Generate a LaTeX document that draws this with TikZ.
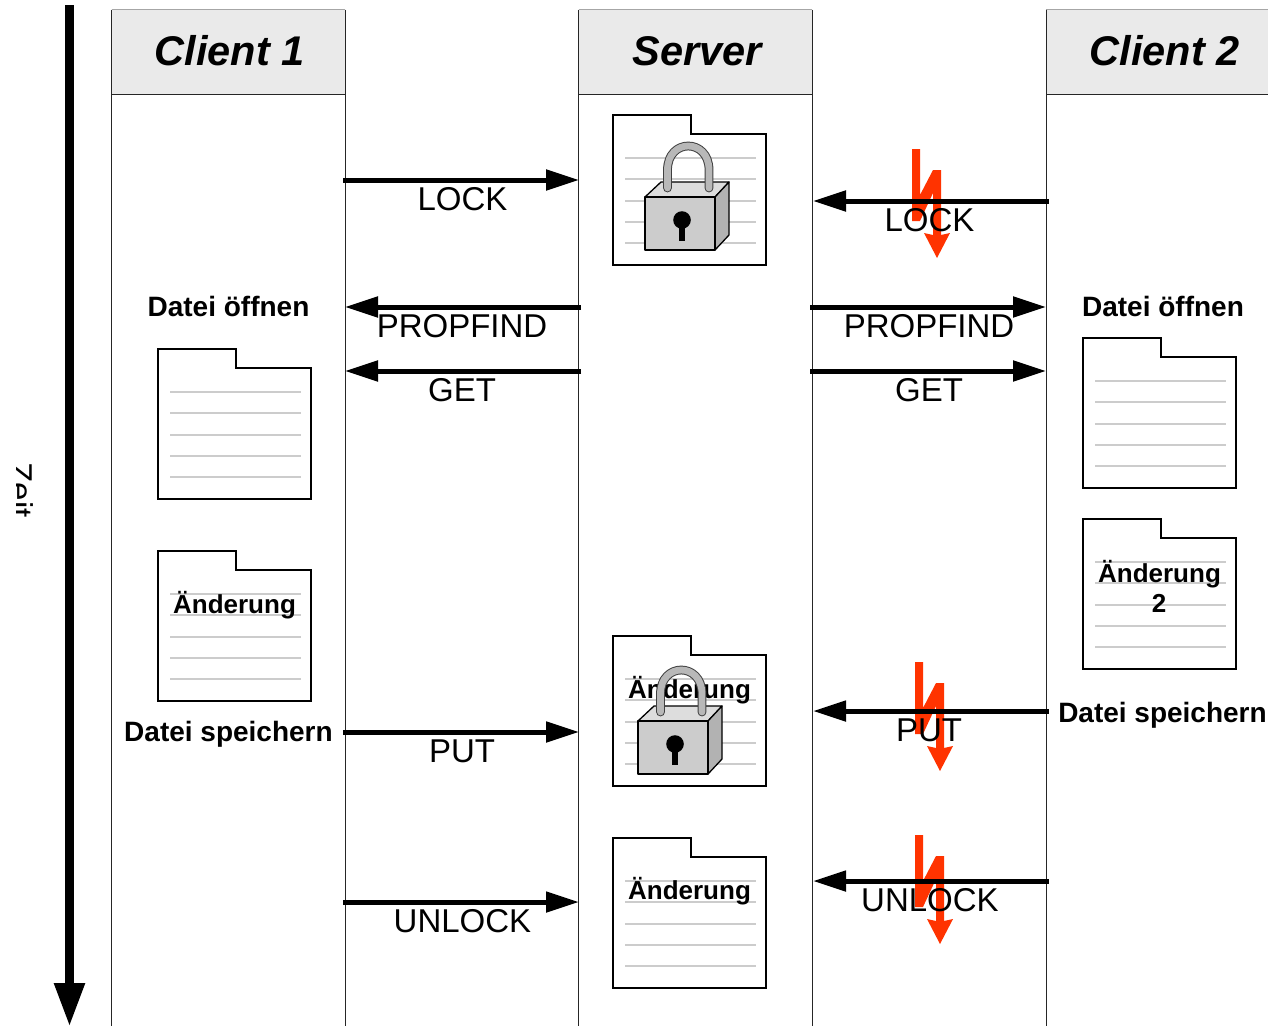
\documentclass[tikz,border=0pt]{standalone}
\usepackage{fontspec}
\setmainfont{Liberation Sans}
\usetikzlibrary{arrows.meta}
\definecolor{hdr}{HTML}{EAEAEA}
\definecolor{ruleg}{HTML}{CCCCCC}
\definecolor{bolt}{HTML}{FF3300}
\definecolor{lockfront}{HTML}{CCCCCC}
\definecolor{locktop}{HTML}{DDDDDD}
\definecolor{lockside}{HTML}{B2B2B2}
\tikzset{
  headbox/.style={draw=none,fill=hdr,minimum width=233.5pt,minimum height=85pt,inner sep=0pt,outer sep=0pt},
  headtext/.style={anchor=base,inner sep=0pt,font=\fontsize{41.5}{42}\selectfont\bfseries\itshape},
  lanerule/.style={draw=black!85,line width=0.9pt},
  toprule/.style={draw=black!35,line width=0.9pt},
  msg/.style={-{Triangle[length=33pt,width=20pt]},line width=5pt,black},
  msglabel/.style={anchor=base,inner sep=0pt,font=\fontsize{33}{33}\selectfont},
  boldlabel/.style={anchor=base,inner sep=0pt,font=\fontsize{28}{28}\selectfont\bfseries},
  changelabel/.style={anchor=base,inner sep=0pt,font=\fontsize{26}{26}\selectfont\bfseries},
  folderline/.style={draw=ruleg,line width=1.2pt},
  folderedge/.style={draw=black,line width=2.6pt,fill=white,line join=miter},
  pics/folder/.style={code={
    \draw[folderedge] (0,0) -- (78,0) -- (78,19) -- (153,19) -- (153,150) -- (0,150) -- cycle;
    \foreach \ly in {43,64,86,107,128} {\draw[folderline] (12,\ly) -- (143,\ly);}
  }},
  pics/padlock/.style={code={
    \draw[black,line width=1.3pt,fill=locktop,line join=round] (0,0) -- (16,-15) -- (84,-15) -- (70,0) -- cycle;
    \draw[black,line width=1.3pt,fill=lockside,line join=round] (70,0) -- (84,-15) -- (84,38) -- (70,53) -- cycle;
    \draw[black,line width=1.3pt,fill=lockfront,line join=round] (0,0) rectangle (70,53);
    \draw[black!75,line width=8.8pt,line cap=round] (22.5,-9) -- (22.5,-27) .. controls (22.5,-59) and (64,-59) .. (64,-27) -- (64,-9);
    \draw[black!28,line width=6.8pt,line cap=round] (22.5,-9) -- (22.5,-27) .. controls (22.5,-59) and (64,-59) .. (64,-27) -- (64,-9);
    \fill[black] (37,23) circle[radius=8.8];
    \fill[black] (34.4,23) rectangle (39.6,44);
  }},
  pics/zigzag/.style={code={
    \fill[bolt] (0,0) -- (8,0) -- (8,46) -- (21,21) -- (29,21) -- (29,86) -- (38,84) -- (25,109) -- (12,84) -- (21,86) -- (21,44) -- (8,72) -- (0,72) -- cycle;
  }},
}
\begin{document}
\begin{tikzpicture}[x=1pt,y=-1pt]
\useasboundingbox (0,0) rectangle (1268,1026);
\clip (0,0) rectangle (1268,1026);

% header boxes
\node[headbox] (hc1) at (228.25,52) {};
\node[headbox] (hs) at (695.5,52) {};
\node[headbox] (hc2) at (1162.75,52) {};
\draw[toprule] (hc1.north west) -- (hc1.north east);
\draw[toprule] (hs.north west) -- (hs.north east);
\draw[toprule] (hc2.north west) -- (hc2.north east);
\draw[lanerule] (hc1.south west) -- (hc1.south east);
\draw[lanerule] (hs.south west) -- (hs.south east);
\draw[lanerule] (hc2.south west) -- (hc2.south east);
% lanes
\coordinate (c1lb) at (111.5,1026);
\coordinate (c1rb) at (345,1026);
\coordinate (slb) at (578.75,1026);
\coordinate (srb) at (812.25,1026);
\coordinate (c2lb) at (1046,1026);
\draw[lanerule] (hc1.north west) -- (c1lb);
\draw[lanerule] (hc1.north east) -- (c1rb);
\draw[lanerule] (hs.north west) -- (slb);
\draw[lanerule] (hs.north east) -- (srb);
\draw[lanerule] (hc2.north west) -- (c2lb);
\node[headtext] (tc1) at (229.5,65) {Client 1};
\node[headtext] (ts) at (697.5,65) {Server};
\node[headtext] (tc2) at (1164.5,65) {Client 2};

% time axis
\coordinate (ttop) at (69.5,5);
\coordinate (tbot) at (69.5,1027);
\draw[-{Triangle[length=44pt,width=28.5pt]},line width=9.6pt,black] (ttop) -- (tbot);
\begin{scope}
\clip (16.5,400) rectangle (60,600);
\node[msglabel,rotate=-90] (zeit) at (9.5,490) {Zeit};
\end{scope}

% folders
\pic at (158,349) {folder};
\pic at (158,551) {folder};
\pic at (613,115) {folder};
\pic at (613,636) {folder};
\pic at (613,838) {folder};
\pic at (1083,338) {folder};
\pic at (1083,519) {folder};

% folder texts
\node[changelabel] (a1) at (234.5,613) {Änderung};
\node[changelabel] (a2) at (689.5,698) {Änderung};
\node[changelabel] (a3) at (689.5,899) {Änderung};
\node[changelabel] (b1) at (1159.5,582) {Änderung};
\node[changelabel] (b2) at (1159,612) {2};

% padlocks
\pic at (645,197) {padlock};
\pic at (638,721) {padlock};

% bolts
\pic at (912,149) {zigzag};
\pic at (915,662) {zigzag};
\pic at (915,835) {zigzag};

% bold captions
\node[boldlabel] (o1) at (228.5,316) {Datei öffnen};
\node[boldlabel] (o2) at (1163,316) {Datei öffnen};
\node[boldlabel] (s1) at (228.5,741) {Datei speichern};
\node[boldlabel] (s2) at (1162.5,722) {Datei speichern};

% message endpoints
\foreach \nm/\xx/\yy in {
 a/343/180, b/579/180, c/1049/201, d/813/201,
 e/581/307, f/345/307, g/810/307, h/1046/307,
 i/581/371, j/345/371, k/810/371, l/1046/371,
 m/343/732, n/579/732, o/1049/711, p/813/711,
 q/343/902, r/579/902, s/1049/881, t/813/881}
 {\coordinate (\nm) at (\xx,\yy);}
\draw[msg] (a) -- (b);
\draw[msg] (c) -- (d);
\draw[msg] (e) -- (f);
\draw[msg] (g) -- (h);
\draw[msg] (i) -- (j);
\draw[msg] (k) -- (l);
\draw[msg] (m) -- (n);
\draw[msg] (o) -- (p);
\draw[msg] (q) -- (r);
\draw[msg] (s) -- (t);

% message labels
\node[msglabel] (l1) at (462.5,210) {LOCK};
\node[msglabel] (l2) at (929.5,231) {LOCK};
\node[msglabel] (l3) at (462,337) {PROPFIND};
\node[msglabel] (l4) at (929,337) {PROPFIND};
\node[msglabel] (l5) at (462,401) {GET};
\node[msglabel] (l6) at (929,401) {GET};
\node[msglabel] (l7) at (462,762) {PUT};
\node[msglabel] (l8) at (929,741) {PUT};
\node[msglabel] (l9) at (462.5,932) {UNLOCK};
\node[msglabel] (l10) at (930,911) {UNLOCK};
\end{tikzpicture}
\end{document}
